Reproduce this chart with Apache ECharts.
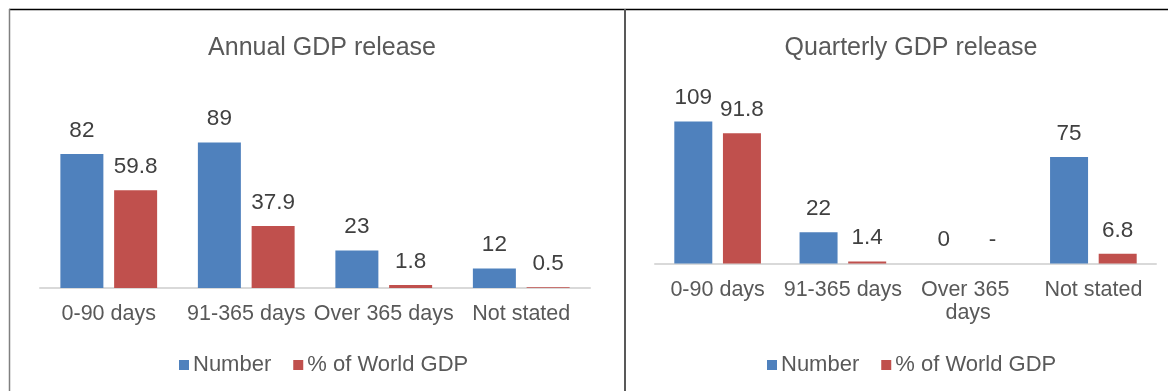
<!DOCTYPE html>
<html>
<head>
<meta charset="utf-8">
<script src="https://cdn.jsdelivr.net/npm/echarts@6/dist/echarts.min.js"></script>
<style>
  html, body { margin: 0; padding: 0; background: #fff; }
  #chart { width: 1168px; height: 391px; }
</style>
</head>
<body>
<div id="chart"></div>
<script>
// categories
const categories = ['0-90 days', '91-365 days', 'Over 365 days', 'Not stated']
// annual GDP release
const annualNumber = [82, 89, 23, 12]
const annualPct = [59.8, 37.9, 1.8, 0.5]
// quarterly GDP release (0 in the share series is shown as "-")
const quarterlyNumber = [109, 22, 0, 75]
const quarterlyPct = [91.8, 1.4, 0, 6.8]

const seriesNames = ['Number', '% of World GDP']
const blue = '#4F81BD'
const red = '#C0504D'
const font = 'Liberation Sans, Arial, sans-serif'

const myChart = echarts.init(document.getElementById('chart'))

// shared pieces
const lbl = {
  show: true,
  position: 'top',
  distance: 12,
  color: '#404040',
  fontSize: 22.5,
  fontFamily: font
}
const xAxisBase = {
  type: 'category',
  data: categories,
  axisTick: { show: false },
  axisLine: { lineStyle: { color: '#D9D9D9', width: 2 } },
  axisLabel: { interval: 0, color: '#595959', fontSize: 21.5, fontFamily: font, margin: 15, lineHeight: 23 }
}
const yAxisBase = { type: 'value', min: 0, max: 100, show: false }
const legendBase = {
  data: seriesNames, top: 349, itemWidth: 10, itemHeight: 10, itemGap: 22, icon: 'rect',
  textStyle: { color: '#595959', fontSize: 22, fontFamily: font, padding: [0, 0, 0, -1] }
}
const titleStyle = { color: '#595959', fontSize: 25, fontWeight: 'normal', fontFamily: font }

const option = {
  animation: false,
  textStyle: { fontFamily: font },
  title: [
    { text: 'Annual GDP release', left: 317, top: 31, textAlign: 'center', textStyle: titleStyle },
    { text: 'Quarterly GDP release', left: 906, top: 31, textAlign: 'center', textStyle: titleStyle }
  ],
  legend: [
    Object.assign({}, legendBase, { left: 174 }),
    Object.assign({}, legendBase, { left: 762 })
  ],
  grid: [
    { left: 40, top: 124.5, width: 550, height: 163.5 },
    { left: 655, top: 121.5, width: 501, height: 142 }
  ],
  xAxis: [
    Object.assign({}, xAxisBase, { gridIndex: 0 }),
    Object.assign({}, xAxisBase, { gridIndex: 1,
      axisLabel: Object.assign({}, xAxisBase.axisLabel, { width: 125, overflow: 'break' }) })
  ],
  yAxis: [
    Object.assign({}, yAxisBase, { gridIndex: 0 }),
    Object.assign({}, yAxisBase, { gridIndex: 1 })
  ],
  series: [
    { name: seriesNames[0], type: 'bar', xAxisIndex: 0, yAxisIndex: 0, data: annualNumber,
      barWidth: 43, barGap: '25%', itemStyle: { color: blue }, label: lbl },
    { name: seriesNames[1], type: 'bar', xAxisIndex: 0, yAxisIndex: 0, data: annualPct,
      barWidth: 43, barGap: '25%', itemStyle: { color: red }, label: lbl },
    { name: seriesNames[0], type: 'bar', xAxisIndex: 1, yAxisIndex: 1, data: quarterlyNumber,
      barWidth: 38, barGap: '28%', itemStyle: { color: blue }, label: lbl },
    { name: seriesNames[1], type: 'bar', xAxisIndex: 1, yAxisIndex: 1, data: quarterlyPct,
      barWidth: 38, barGap: '28%', itemStyle: { color: red },
      label: Object.assign({}, lbl, { formatter: p => (p.value === 0 ? '-' : p.value) }) }
  ],
  // panel frames
  graphic: [
    { type: 'line', shape: { x1: 9, y1: 9.5, x2: 1168, y2: 9.5 }, style: { stroke: '#000', lineWidth: 1.5 } },
    { type: 'line', shape: { x1: 9.5, y1: 9, x2: 9.5, y2: 391 }, style: { stroke: '#808080', lineWidth: 1.5 } },
    { type: 'line', shape: { x1: 625, y1: 9, x2: 625, y2: 391 }, style: { stroke: '#595959', lineWidth: 2 } }
  ]
}

myChart.setOption(option)
</script>
</body>
</html>
